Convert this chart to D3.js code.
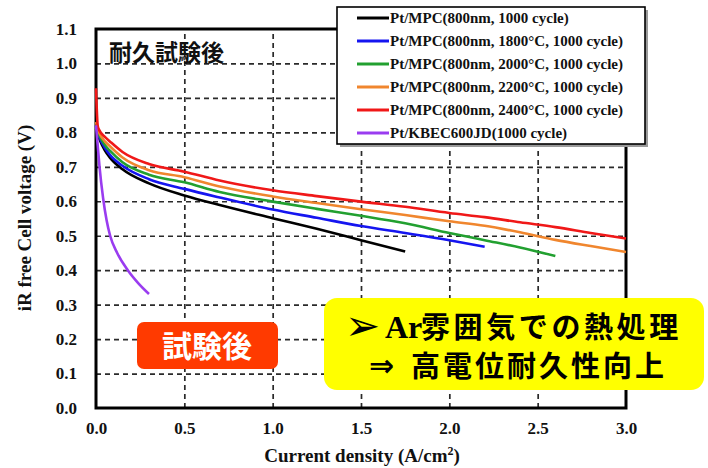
<!DOCTYPE html>
<html>
<head>
<meta charset="utf-8">
<script src="https://cdn.jsdelivr.net/npm/d3@7"></script>
<style>
  html, body { margin: 0; padding: 0; background: #fff; }
  svg { display: block; }
</style>
</head>
<body>
<svg id="chart" width="708" height="468"></svg>
<script>
// ---- Data ----
const currents = [0, 0.01, 0.02, 0.05, 0.08, 0.15, 0.3, 0.5, 0.7, 1.0, 1.25, 1.5, 1.75, 2.0, 2.2, 2.4, 2.6, 2.8, 3.0];
const mpc1000 = [0.81, 0.795, 0.78, 0.748, 0.726, 0.693, 0.652, 0.617, 0.589, 0.551, 0.520, 0.487, 0.454];
const mpc1800 = [0.82, 0.80, 0.785, 0.755, 0.734, 0.703, 0.664, 0.636, 0.611, 0.576, 0.552, 0.528, 0.508, 0.487, 0.468];
const mpc2000 = [0.82, 0.805, 0.79, 0.763, 0.746, 0.713, 0.677, 0.655, 0.627, 0.599, 0.578, 0.558, 0.536, 0.508, 0.487, 0.466, 0.441];
const mpc2200 = [0.83, 0.81, 0.797, 0.774, 0.759, 0.727, 0.690, 0.670, 0.643, 0.614, 0.595, 0.577, 0.560, 0.542, 0.529, 0.510, 0.488, 0.470, 0.453];
const mpc2400 = [0.928, 0.818, 0.805, 0.787, 0.773, 0.743, 0.708, 0.686, 0.660, 0.632, 0.615, 0.599, 0.584, 0.566, 0.554, 0.539, 0.525, 0.508, 0.492];
const kbCurrents = [0, 0.01, 0.02, 0.04, 0.06, 0.08, 0.12, 0.18, 0.24, 0.30];
const kb1000 = [0.82, 0.76, 0.70, 0.61, 0.545, 0.50, 0.45, 0.40, 0.362, 0.331];

const seriesNames = [
  "Pt/MPC(800nm, 1000 cycle)",
  "Pt/MPC(800nm, 1800°C, 1000 cycle)",
  "Pt/MPC(800nm, 2000°C, 1000 cycle)",
  "Pt/MPC(800nm, 2200°C, 1000 cycle)",
  "Pt/MPC(800nm, 2400°C, 1000 cycle)",
  "Pt/KBEC600JD(1000 cycle)"
];
const xTicks = [0, 0.5, 1.0, 1.5, 2.0, 2.5, 3.0];
const yTicks = [0, 0.1, 0.2, 0.3, 0.4, 0.5, 0.6, 0.7, 0.8, 0.9, 1.0, 1.1];

// ---- Build ----
const colors = ["#000000", "#1515f0", "#22a030", "#f0862e", "#f01818", "#9a3cf0"];
const seriesValues = [mpc1000, mpc1800, mpc2000, mpc2200, mpc2400, kb1000];
const seriesX = [currents, currents, currents, currents, currents, kbCurrents];

const svg = d3.select("#chart");
const L = 96, R = 626, T = 29, B = 408;
const x = d3.scaleLinear().domain([0, 3]).range([L, R]);
const y = d3.scaleLinear().domain([0, 1.1]).range([B, T]);
const serif = "'Liberation Serif', 'Times New Roman', serif";
const cjk = "'Noto Sans CJK JP', 'Noto Sans CJK SC', sans-serif";

// grid
const gx = svg.append("g").attr("transform", `translate(0,${B})`)
  .call(d3.axisBottom(x).tickValues(xTicks.slice(1, -1)).tickSize(-(B - T)).tickFormat(""));
gx.select(".domain").remove();
gx.selectAll("line").attr("stroke", "#2a2a2a").attr("stroke-width", 1.7).attr("stroke-dasharray", "5,4");
const gy = svg.append("g").attr("transform", `translate(${L},0)`)
  .call(d3.axisLeft(y).tickValues(yTicks.slice(1, -1)).tickSize(-(R - L)).tickFormat(""));
gy.select(".domain").remove();
gy.selectAll("line").attr("stroke", "#2a2a2a").attr("stroke-width", 1.7).attr("stroke-dasharray", "5,4");

// axes labels
const ax = svg.append("g").attr("transform", `translate(0,${B})`)
  .call(d3.axisBottom(x).tickValues(xTicks).tickSize(0).tickPadding(14).tickFormat(d3.format(".1f")));
ax.select(".domain").remove();
ax.selectAll("text").attr("font-family", serif).attr("font-weight", "bold").attr("font-size", 17).attr("fill", "#111");
const ay = svg.append("g").attr("transform", `translate(${L},0)`)
  .call(d3.axisLeft(y).tickValues(yTicks).tickSize(0).tickPadding(19).tickFormat(d3.format(".1f")));
ay.select(".domain").remove();
ay.selectAll("text").attr("font-family", serif).attr("font-weight", "bold").attr("font-size", 17).attr("fill", "#111");

// frame
svg.append("rect").attr("x", L).attr("y", T).attr("width", R - L).attr("height", B - T)
  .attr("fill", "none").attr("stroke", "#000").attr("stroke-width", 3);

// curves (drawn over the frame, as in the reference)
const line = d3.line().curve(d3.curveMonotoneX);
seriesValues.forEach((vals, i) => {
  const xs = seriesX[i];
  const pts = vals.map((v, k) => [x(xs[k]), y(v)]);
  svg.append("path").attr("d", line(pts)).attr("fill", "none")
    .attr("stroke", colors[i]).attr("stroke-width", 2.6).attr("stroke-linejoin", "round");
});

// axis titles
svg.append("text").attr("x", 362).attr("y", 462).attr("text-anchor", "middle")
  .attr("font-family", serif).attr("font-weight", "bold").attr("font-size", 19).attr("fill", "#111")
  .html('Current density (A/cm<tspan dy="-7" font-size="12">2</tspan><tspan dy="7">)</tspan>');
svg.append("text").attr("transform", "translate(31,218) rotate(-90)").attr("text-anchor", "middle")
  .attr("font-family", serif).attr("font-weight", "bold").attr("font-size", 19).attr("fill", "#111")
  .text("iR free Cell voltage (V)");

// label inside plot
svg.append("text").attr("x", 109).attr("y", 61).attr("font-family", cjk).attr("font-weight", "bold")
  .attr("font-size", 23).attr("fill", "#111").text("耐久試験後");

// legend
const lg = svg.append("g");
lg.append("rect").attr("x", 340).attr("y", 10).attr("width", 308).attr("height", 137).attr("fill", "#9a9a9a");
lg.append("rect").attr("x", 337).attr("y", 7).attr("width", 308).attr("height", 137)
  .attr("fill", "#fff").attr("stroke", "#000").attr("stroke-width", 1.6);
seriesNames.forEach((name, i) => {
  const cy = 18 + i * 23;
  lg.append("line").attr("x1", 357).attr("x2", 389).attr("y1", cy).attr("y2", cy)
    .attr("stroke", colors[i]).attr("stroke-width", 3);
  lg.append("text").attr("x", 390).attr("y", cy + 5).attr("font-family", serif).attr("font-weight", "bold")
    .attr("font-size", 15).attr("fill", "#111").text(name);
});

// red badge
svg.append("rect").attr("x", 137).attr("y", 322).attr("width", 141).attr("height", 47).attr("rx", 7)
  .attr("fill", "#ff3a00");
svg.append("text").attr("x", 207).attr("y", 357).attr("text-anchor", "middle").attr("font-family", cjk)
  .attr("font-weight", "bold").attr("font-size", 30).attr("fill", "#fff").text("試験後");

// yellow box
svg.append("rect").attr("x", 324).attr("y", 298).attr("width", 380).attr("height", 92).attr("rx", 13)
  .attr("fill", "#ffff00");
svg.append("text").attr("x", 345).attr("y", 340).attr("font-family", "'DejaVu Sans', sans-serif")
  .attr("font-size", 42).attr("font-weight", "bold").attr("fill", "#000").text("➢");
svg.append("text").attr("x", 385).attr("y", 338).attr("font-family", serif)
  .attr("font-size", 32).attr("font-weight", "bold").attr("fill", "#000").text("Ar");
svg.append("text").attr("x", 421).attr("y", 338).attr("font-family", cjk)
  .attr("font-size", 29).attr("letter-spacing", 3.6).attr("font-weight", "bold").attr("fill", "#000")
  .text("雰囲気での熱処理");
svg.append("text").attr("x", 369).attr("y", 376).attr("font-family", "'DejaVu Sans', sans-serif")
  .attr("font-size", 30).attr("font-weight", "bold").attr("fill", "#000").text("⇒");
svg.append("text").attr("x", 411).attr("y", 377).attr("font-family", cjk)
  .attr("font-size", 29).attr("letter-spacing", 3).attr("font-weight", "bold").attr("fill", "#000")
  .text("高電位耐久性向上");
</script>
</body>
</html>
